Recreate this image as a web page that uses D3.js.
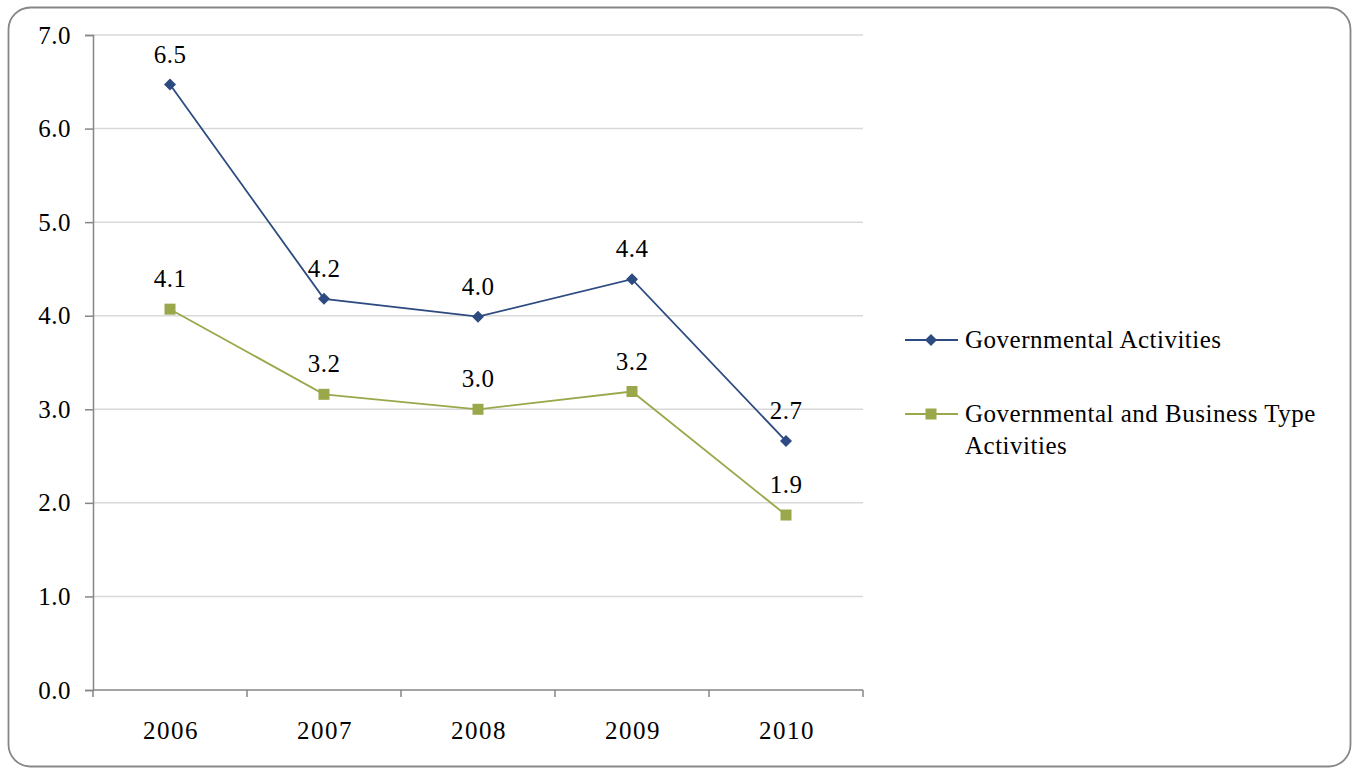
<!DOCTYPE html>
<html>
<head>
<meta charset="utf-8">
<script src="https://cdn.jsdelivr.net/npm/d3@7"></script>
<style>
  html, body { margin: 0; padding: 0; background: #fff; }
  svg { display: block; }
</style>
</head>
<body>
<svg id="chart" width="1356" height="768"></svg>
<script>
// Years on the category axis
const years = ["2006", "2007", "2008", "2009", "2010"];
// Series values
const governmental = [6.47, 4.18, 3.99, 4.39, 2.66];
const govAndBusiness = [4.07, 3.16, 3.0, 3.19, 1.87];
// Series names
const seriesNames = ["Governmental Activities", "Governmental and Business Type Activities"];
// Value axis ticks
const yTicks = [0, 1, 2, 3, 4, 5, 6, 7];

const FONT = "Liberation Serif";

const series = [
  { name: seriesNames[0], values: governmental, color: "#2D4B80", marker: "diamond" },
  { name: seriesNames[1], values: govAndBusiness, color: "#9BA74B", marker: "square" }
];

const svg = d3.select("#chart");
const plot = { left: 93, right: 863, top: 35, bottom: 690 };
const fmt = d3.format(".1f");

function styleText(sel, spacing) {
  return sel.style("font-family", FONT)
    .style("font-size", "25px")
    .style("letter-spacing", spacing + "px")
    .style("fill", "#000");
}

// Outer frame
svg.append("rect")
  .attr("x", 8.5).attr("y", 7.5)
  .attr("width", 1342).attr("height", 759)
  .attr("rx", 22).attr("ry", 22)
  .attr("fill", "#fff").attr("stroke", "#878787").attr("stroke-width", 1.8);

const x = d3.scaleBand().domain(years).range([plot.left, plot.right]);
const y = d3.scaleLinear().domain([0, 7]).range([plot.bottom, plot.top]);

// Horizontal gridlines
svg.append("g")
  .selectAll("line")
  .data(yTicks.filter(t => t > 0))
  .join("line")
  .attr("x1", plot.left).attr("x2", plot.right)
  .attr("y1", d => y(d)).attr("y2", d => y(d))
  .attr("stroke", "#D9D9D9").attr("stroke-width", 1.5);

// Value axis
const yAxis = svg.append("g")
  .attr("transform", `translate(${plot.left},0)`)
  .call(d3.axisLeft(y).tickValues(yTicks).tickFormat(fmt).tickSize(8).tickPadding(14));
yAxis.select(".domain").attr("stroke", "#868686").attr("stroke-width", 1.5);
yAxis.selectAll(".tick line").attr("stroke", "#868686").attr("stroke-width", 1.5);
styleText(yAxis.selectAll(".tick text"), 0.5);

// Category axis with tick marks on band boundaries
const xAxisG = svg.append("g").attr("transform", `translate(0,${plot.bottom})`);
xAxisG.append("line")
  .attr("x1", plot.left).attr("x2", plot.right)
  .attr("stroke", "#868686").attr("stroke-width", 1.5);
const bounds = years.map(d => x(d)).concat([x(years[years.length - 1]) + x.bandwidth()]);
xAxisG.selectAll("line.tk")
  .data(bounds)
  .join("line").attr("class", "tk")
  .attr("x1", d => d).attr("x2", d => d)
  .attr("y1", 0).attr("y2", 7)
  .attr("stroke", "#868686").attr("stroke-width", 1.5);
styleText(xAxisG.selectAll("text")
  .data(years)
  .join("text")
  .attr("x", d => x(d) + x.bandwidth() / 2 + 1)
  .attr("y", 49)
  .attr("text-anchor", "middle")
  .text(d => d), 1.5);

const cx = d => x(d) + x.bandwidth() / 2;
const line = d3.line().x(d => cx(d.year)).y(d => y(d.value));

function drawMarker(g, type, color, px, py) {
  if (type === "diamond") {
    const s = 6;
    g.append("path")
      .attr("d", `M${px},${py - s}L${px + s},${py}L${px},${py + s}L${px - s},${py}Z`)
      .attr("fill", color);
  } else {
    const s = 5.5;
    g.append("rect")
      .attr("x", px - s).attr("y", py - s)
      .attr("width", 2 * s).attr("height", 2 * s)
      .attr("fill", color);
  }
}

// Lines, markers and value labels
series.forEach(s => {
  const pts = years.map((yr, i) => ({ year: yr, value: s.values[i] }));
  const g = svg.append("g");
  g.append("path")
    .datum(pts)
    .attr("d", line)
    .attr("fill", "none")
    .attr("stroke", s.color)
    .attr("stroke-width", 1.8);
  pts.forEach(p => drawMarker(g, s.marker, s.color, cx(p.year), y(p.value)));
  styleText(g.selectAll("text.lbl")
    .data(pts)
    .join("text").attr("class", "lbl")
    .attr("x", d => cx(d.year))
    .attr("y", d => y(d.value) - 22)
    .attr("text-anchor", "middle")
    .text(d => fmt(d.value)), 0.5);
});

// Legend
const legend = svg.append("g");
const legendItems = [
  { s: series[0], y: 340, lines: ["Governmental Activities"] },
  { s: series[1], y: 414, lines: ["Governmental and Business Type", "Activities"] }
];
legendItems.forEach(it => {
  legend.append("line")
    .attr("x1", 905).attr("x2", 958)
    .attr("y1", it.y).attr("y2", it.y)
    .attr("stroke", it.s.color).attr("stroke-width", 1.8);
  drawMarker(legend, it.s.marker, it.s.color, 931, it.y);
  const t = styleText(legend.append("text")
    .attr("x", 965).attr("y", it.y + 8), 0.5);
  it.lines.forEach((ln, i) => {
    t.append("tspan").attr("x", 965).attr("dy", i === 0 ? 0 : 32).text(ln);
  });
});
</script>
</body>
</html>
